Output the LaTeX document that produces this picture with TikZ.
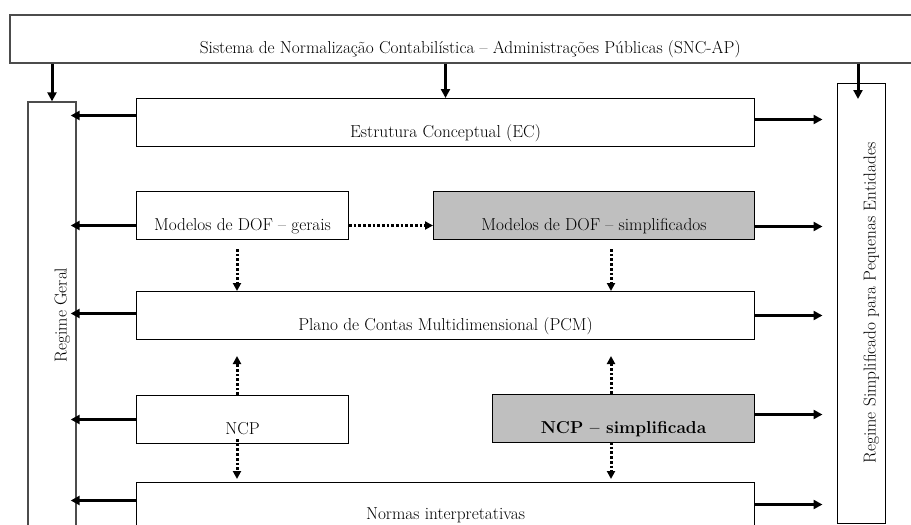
\documentclass[tikz,border=0pt]{standalone}
\usepackage{tikz}
\usetikzlibrary{calc,arrows.meta}

\tikzset{
  caixa/.style={draw, line width=1pt, inner sep=3pt, text height=31pt, text depth=2pt,
    font=\fontsize{17.3}{21}\selectfont},
  cinza/.style={caixa, fill=black!25},
  seta/.style={line width=3pt, -{Triangle[length=9pt,width=9pt]}},
  pont/.style={line width=3pt, dash pattern=on 2.7pt off 2pt, -{Triangle[length=8pt,width=8pt]}},
}

\begin{document}
\begin{tikzpicture}[x=1pt,y=-1pt]
\useasboundingbox (0,0) rectangle (911,525);
\clip (0,0) rectangle (911,525);
% sistema
\node[caixa, anchor=north west, minimum width=921, minimum height=48, draw=black!70, line width=1.5pt] (snc) at (9,14) {Sistema de Normalização Contabilística – Administrações Públicas (SNC-AP)};
% regimes
\node[caixa, rotate=90, minimum width=426, minimum height=48, draw=black!70, line width=1.3pt] (rg) at (52,315) {Regime Geral};
\node[caixa, rotate=90, minimum width=440, minimum height=48] (rs) at (861,303) {Regime Simplificado para Pequenas Entidades};
% caixas do meio
\node[caixa, anchor=north west, minimum width=618, minimum height=48] (ec) at (136,98) {Estrutura Conceptual (EC)};
\node[caixa, anchor=north west, minimum width=212, minimum height=48] (dofg) at (136,191) {Modelos de DOF – gerais};
\node[cinza, anchor=north west, minimum width=321, minimum height=48] (dofs) at (433,191) {Modelos de DOF – simplificados};
\node[caixa, anchor=north west, minimum width=618, minimum height=48] (pcm) at (136,291) {Plano de Contas Multidimensional (PCM)};
\node[caixa, anchor=north west, minimum width=212, minimum height=48] (ncp) at (136,395) {NCP};
\node[cinza, anchor=north west, minimum width=262, minimum height=48] (ncps) at (492,394) {\bfseries NCP – simplificada};
\node[caixa, anchor=north west, minimum width=618, minimum height=44] (ni) at (136,482) {Normas interpretativas};
\coordinate (rsT) at (858,99);
\coordinate (colA) at (237,0);
\coordinate (colB) at (611,0);

% setas de cima
\draw[seta] (snc.south -| rg.east) -- (rg.east);
\draw[seta] (snc.south -| ec.north) -- (ec.north);
\draw[seta] (snc.south -| rsT) -- (rsT);

% setas para o regime geral
\draw[seta, shorten >=-6pt] ($(ec.west)+(0,-7)$) -- ($(ec.west -| rg.south)+(0,-7)$);
\draw[seta, shorten >=-6pt] ($(dofg.west)+(0,10)$) -- ($(dofg.west -| rg.south)+(0,10)$);
\draw[seta, shorten >=-6pt] ($(pcm.west)+(0,-2)$) -- ($(pcm.west -| rg.south)+(0,-2)$);
\draw[seta, shorten >=-6pt] (ncp.west) -- (ncp.west -| rg.south);
\draw[seta, shorten >=-6pt] ($(ni.west)+(0,-4)$) -- ($(ni.west -| rg.south)+(0,-4)$);

% setas para o regime simplificado
\draw[seta, shorten >=14pt] ($(ec.east)+(0,-3)$) -- ($(ec.east -| rs.north)+(0,-3)$);
\draw[seta, shorten >=14pt] ($(dofs.east)+(0,11)$) -- ($(dofs.east -| rs.north)+(0,11)$);
\draw[seta, shorten >=14pt] (pcm.east) -- (pcm.east -| rs.north);
\draw[seta, shorten >=14pt] ($(ncps.east)+(0,-4)$) -- ($(ncps.east -| rs.north)+(0,-4)$);
\draw[seta, shorten >=14pt] (ni.east) -- (ni.east -| rs.north);

% ligacoes pontilhadas
\draw[pont] ($(dofg.east)+(0,10)$) -- ($(dofs.west)+(0,10)$);
\draw[pont, shorten <=9pt] (dofg.south -| colA) -- (pcm.north -| colA);
\draw[pont, shorten >=16pt] (ncp.north -| colA) -- (pcm.south -| colA);
\draw[pont, shorten <=-5pt, shorten >=3pt] (ncp.south -| colA) -- (ni.north -| colA);
\draw[pont, shorten <=9pt] (dofs.south -| colB) -- (pcm.north -| colB);
\draw[pont, shorten >=16pt] (ncps.north -| colB) -- (pcm.south -| colB);
\draw[pont, shorten <=-1pt, shorten >=3pt] (ncps.south -| colB) -- (ni.north -| colB);
\end{tikzpicture}
\end{document}
